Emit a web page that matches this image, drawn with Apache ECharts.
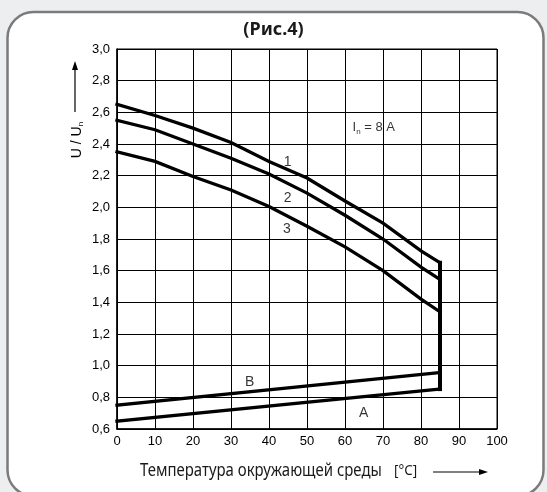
<!DOCTYPE html>
<html>
<head>
<meta charset="utf-8">
<script src="https://cdn.jsdelivr.net/npm/echarts@6/dist/echarts.min.js"></script>
<style>
html,body{margin:0;padding:0;background:#eceef0;}
#chart{width:547px;height:492px;}
</style>
</head>
<body>
<div id="chart"></div>
<script>
// ---- data ----
var xTicks = [0, 10, 20, 30, 40, 50, 60, 70, 80, 90, 100];
var yTicks = [0.6, 0.8, 1.0, 1.2, 1.4, 1.6, 1.8, 2.0, 2.2, 2.4, 2.6, 2.8, 3.0];
var curve1 = [[0, 2.65], [10, 2.58], [20, 2.50], [30, 2.41], [40, 2.29], [50, 2.185], [60, 2.04], [70, 1.90], [80, 1.725], [85, 1.65]];
var curve2 = [[0, 2.55], [10, 2.49], [20, 2.40], [30, 2.31], [40, 2.21], [50, 2.09], [60, 1.95], [70, 1.80], [80, 1.623], [85, 1.545]];
var curve3 = [[0, 2.35], [10, 2.29], [20, 2.195], [30, 2.11], [40, 2.005], [50, 1.88], [60, 1.75], [70, 1.60], [80, 1.42], [85, 1.34]];
var limitLine = [[85, 0.852], [85, 1.65]];
var lineA = [[0, 0.65], [85, 0.852]];
var lineB = [[0, 0.75], [85, 0.957]];
var curveLabels = [[44.9, 2.288, '1'], [44.9, 2.061, '2'], [44.7, 1.865, '3'], [34.9, 0.898, 'B'], [64.9, 0.702, 'A']];
var currentLabel = [[62, 2.503, 'In = 8 A']];
var titleText = '(Рис.4)';
var xName = 'Температура окружающей среды';
var xUnit = '[°C]';

var chart = echarts.init(document.getElementById('chart'), null, {renderer: 'canvas'});
var tickFont = "'Liberation Sans', Arial, sans-serif";

function lineSeries(d, w) {
  return {
    type: 'line', data: d, symbol: 'none', silent: true, z: 5,
    lineStyle: {color: '#000', width: w || 3.3, cap: 'square', join: 'miter'}
  };
}

var option = {
  backgroundColor: '#eceef0',
  animation: false,
  title: {
    text: titleText, left: 'center', top: 16,
    textStyle: {fontFamily: "'Noto Sans', 'Open Sans', sans-serif", fontWeight: 'bold', fontSize: 18, color: '#1a1a1a'}
  },
  graphic: [
    {type: 'rect', z: -10, shape: {x: 7.5, y: 12, width: 536, height: 484, r: 26},
      style: {fill: '#ffffff', stroke: '#7b7b7b', lineWidth: 2.5}},
    {type: 'text', x: 77, y: 140, rotation: Math.PI / 2,
      style: {text: '{a|U / U}{s|n}', align: 'center', verticalAlign: 'middle',
        rich: {a: {fontFamily: tickFont, fontSize: 14, fill: '#000'}, s: {fontFamily: tickFont, fontSize: 8, fill: '#000', padding: [8, 0, 0, 0]}}}},
    {type: 'line', shape: {x1: 75, y1: 112, x2: 75, y2: 68}, style: {stroke: '#000', lineWidth: 1.2}},
    {type: 'polygon', shape: {points: [[75, 61], [72, 70], [78, 70]]}, style: {fill: '#000'}},
    {type: 'text', x: 140, y: 471, scaleX: 0.83,
      style: {text: xName, align: 'left', verticalAlign: 'middle', fontFamily: "'Noto Sans', sans-serif", fontSize: 18, fill: '#1a1a1a'}},
    {type: 'text', x: 394, y: 471, scaleX: 0.9,
      style: {text: xUnit, align: 'left', verticalAlign: 'middle', fontFamily: "'Noto Sans', sans-serif", fontSize: 15, fill: '#1a1a1a'}},
    {type: 'line', shape: {x1: 433, y1: 472, x2: 480, y2: 472}, style: {stroke: '#000', lineWidth: 1.2}},
    {type: 'polygon', shape: {points: [[488, 472], [479, 469], [479, 475]]}, style: {fill: '#000'}}
  ],
  grid: {left: 117, right: 50, top: 49, bottom: 63, show: true, borderColor: '#000', borderWidth: 1, backgroundColor: 'transparent'},
  xAxis: {
    type: 'value', min: xTicks[0], max: xTicks[xTicks.length - 1], interval: 10,
    axisLine: {show: true, onZero: false, lineStyle: {color: '#000', width: 1.5}},
    axisTick: {show: false},
    splitLine: {show: true, lineStyle: {color: '#000', width: 1}},
    axisLabel: {color: '#000', fontFamily: tickFont, fontSize: 13, margin: 6}
  },
  yAxis: {
    type: 'value', min: yTicks[0], max: yTicks[yTicks.length - 1], interval: 0.2,
    axisLine: {show: true, onZero: false, lineStyle: {color: '#000', width: 1.5}},
    axisTick: {show: false},
    splitLine: {show: true, lineStyle: {color: '#000', width: 1}},
    axisLabel: {color: '#000', fontFamily: tickFont, fontSize: 13, margin: 7,
      formatter: function (v) { return v.toFixed(1).replace('.', ','); }}
  },
  series: [
    lineSeries(curve1), lineSeries(curve2), lineSeries(curve3),
    lineSeries(limitLine, 4), lineSeries(lineA), lineSeries(lineB),
    {
      type: 'scatter', symbolSize: 0, silent: true, z: 6,
      data: curveLabels.map(function (d) { return {value: [d[0], d[1]], name: d[2]}; }),
      label: {show: true, position: 'inside', formatter: '{b}', color: '#000', fontFamily: tickFont, fontSize: 14}
    },
    {
      type: 'scatter', symbolSize: 0, silent: true, z: 6,
      data: currentLabel.map(function (d) { return {value: [d[0], d[1]], name: d[2]}; }),
      label: {show: true, position: 'right', distance: 0, color: '#000',
        formatter: function () { return '{a|I}{s|n}{a| = 8 A}'; },
        rich: {a: {fontFamily: tickFont, fontSize: 13, color: '#000'}, s: {fontFamily: tickFont, fontSize: 8, color: '#000', padding: [8, 0, 0, 0]}}}
    }
  ]
};
chart.setOption(option);
</script>
</body>
</html>
